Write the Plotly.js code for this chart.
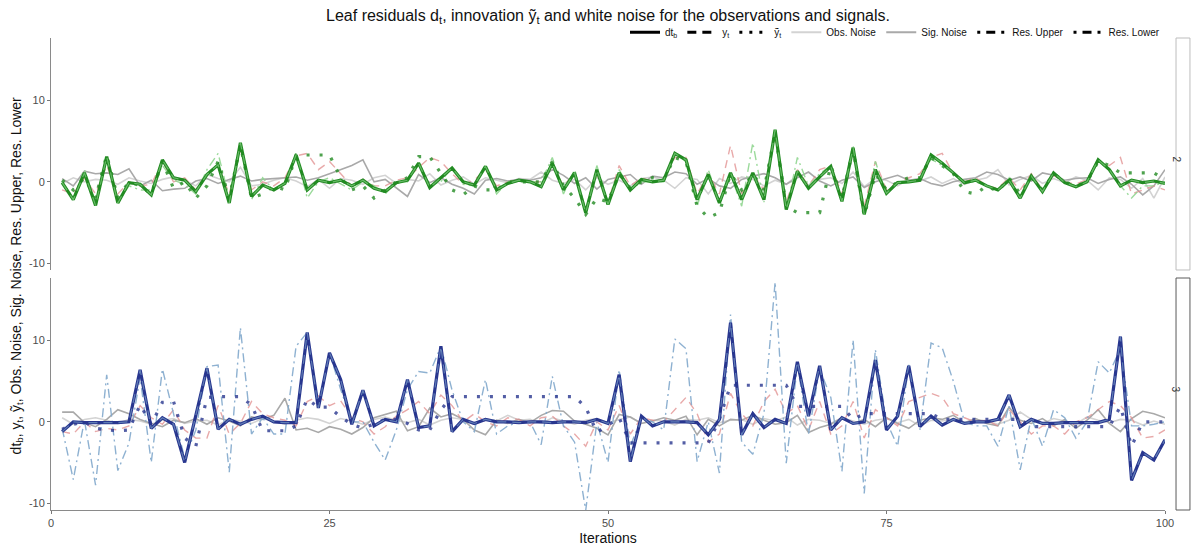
<!DOCTYPE html>
<html>
<head>
<meta charset="utf-8">
<script src="https://cdn.plot.ly/plotly-3.0.1.min.js"></script>
<style>
  html, body { margin: 0; padding: 0; background: #fff; }
  #chart { width: 1192px; height: 547px; }
</style>
</head>
<body>
<div id="chart"></div>
<script>
// Iterations 1..100
const iterations = Array.from({length: 100}, (_, i) => i + 1);

// ---- Leaf 2 ----
const dtb2 = [-0.1,-2.2,1.1,-2.9,3.1,-2.6,-0.1,-0.3,-1.6,2.7,0.5,0.2,-1.2,0.9,2.1,-2.6,4.8,-1.8,-0.4,-1.0,
  -0.2,3.3,-1.0,0.2,-0.1,0.2,-0.5,0.2,-0.8,-1.2,-0.1,0.2,2.3,-0.7,0.5,1.7,0.0,-0.4,1.9,-1.0,
  -0.2,0.2,0.0,-0.6,2.3,-1.0,1.1,-3.8,1.5,-2.8,1.1,-1.0,0.3,0.0,0.2,3.5,2.7,-2.2,0.9,-2.6,
  1.1,-2.2,1.1,-2.2,6.4,-3.4,1.3,-0.8,0.6,1.9,-2.4,4.2,-4.0,1.5,-1.4,-0.1,0.0,0.2,3.3,2.3,
  1.1,-0.1,0.2,-0.5,-1.0,0.2,-2.0,0.7,-1.2,1.1,-0.1,-0.6,0.0,2.7,1.5,-0.5,0.2,-0.1,0.1,-0.2];
const yt2 = [-0.1,-2.2,1.1,-2.9,3.1,-2.6,-0.1,-0.3,-1.6,2.7,0.5,0.2,-1.2,0.9,2.1,-2.6,4.8,-1.8,-0.4,-1.0,
  -0.2,3.3,-1.0,0.2,-0.1,0.2,-0.5,0.2,-0.8,-1.2,-0.1,0.2,2.3,-0.7,0.5,1.7,0.0,-0.4,1.9,-1.0,
  -0.2,0.2,0.0,-0.6,2.3,-1.0,1.1,-3.8,1.5,-2.8,1.1,-1.0,0.3,0.0,0.2,3.5,2.7,-2.2,0.9,-2.6,
  1.1,-2.2,1.1,-2.2,6.4,-3.4,1.3,-0.8,0.6,1.9,-2.4,4.2,-4.0,1.5,-1.4,-0.1,0.0,0.2,3.3,2.3,
  1.1,-0.1,0.2,-0.5,-1.0,0.2,-2.0,0.7,-1.2,1.1,-0.1,-0.6,0.0,2.7,1.5,-0.5,0.2,-0.1,0.1,-0.2];
const ytilde2 = [0.2,-1.0,0.5,-2.0,3.3,-2.0,0.0,-0.5,-1.5,2.5,-0.8,0.0,-2.0,-0.5,2.5,-2.0,4.5,-2.0,-1.5,-0.5,
  -1.0,3.3,3.3,3.3,3.3,0.5,-1.0,-0.5,-2.0,-1.0,0.0,0.5,3.1,3.1,1.0,-1.0,-1.6,-0.5,-1.0,-1.0,
  0.0,0.0,0.0,0.0,2.5,-0.5,-2.0,-4.0,-2.0,-2.5,1.0,-0.8,0.0,0.5,0.3,3.0,2.5,-3.0,-4.4,-3.8,
  1.0,-1.0,1.0,-1.0,6.0,-3.0,-3.8,-3.8,-3.8,2.0,-2.0,4.0,-4.2,1.0,-1.0,0.0,0.5,0.5,3.0,2.0,
  1.0,-1.2,-1.5,-0.5,-1.2,0.5,-1.5,0.5,-1.0,1.0,0.0,-0.5,0.0,2.5,2.0,1.1,1.1,1.1,1.1,0.3];
const obs2 = [-0.2,0.5,0.0,0.3,0.2,-0.3,0.5,0.1,-0.2,0.3,0.6,0.2,-0.5,0.9,0.4,0.0,1.8,-0.5,-0.3,0.2,
  0.5,0.1,-0.6,0.3,-0.8,0.4,0.2,-0.3,0.5,0.8,-0.2,0.3,0.1,1.0,-0.4,0.2,0.6,-0.3,0.5,0.2,
  -0.1,0.4,0.3,1.2,0.2,-0.2,0.3,-1.0,0.5,-0.3,0.2,-0.5,0.4,0.6,0.2,-0.8,0.5,0.3,-1.5,0.4,
  -0.2,0.6,0.3,-0.5,0.2,-0.3,0.8,-0.4,0.3,0.5,-0.2,1.2,-0.6,0.4,0.2,-0.5,0.3,0.1,0.6,-0.2,
  0.4,-0.3,0.2,0.5,1.5,-0.4,0.3,0.8,-0.2,0.4,-0.1,0.6,0.2,-1.0,0.5,0.3,-0.8,0.4,-2.0,0.6];
const sig2 = [0.4,-0.5,1.3,1.0,1.1,0.9,1.6,-0.5,0.2,-1.1,-0.9,-0.8,0.1,0.4,-0.2,0.3,0.7,0.1,0.3,0.4,
  0.5,0.6,0.2,0.5,1.0,1.5,2.0,2.7,0.0,0.3,-0.8,-1.8,0.9,-0.1,0.5,-0.3,-0.8,-1.5,0.2,0.4,
  0.1,0.3,0.2,0.5,1.5,0.8,-0.2,0.5,-0.9,0.3,0.6,0.9,-0.3,0.7,0.5,1.2,1.0,-0.3,0.4,-0.5,
  -0.8,0.3,0.7,1.0,0.5,-0.3,0.5,1.2,0.1,-0.5,0.2,0.6,-0.7,0.0,0.4,0.8,0.2,0.4,-0.2,-0.5,
  0.0,0.3,0.5,1.2,0.9,0.2,0.6,0.1,1.1,0.8,0.2,0.4,0.5,-0.2,0.3,0.6,-0.3,-1.6,-0.5,1.5];
const resUp2 = [-1.0,-1.5,0.5,-1.5,2.0,-1.5,0.0,-0.5,-0.3,2.5,0.0,0.5,-1.0,1.0,2.0,-1.5,4.0,-1.0,0.0,-0.5,
  0.5,3.2,3.5,1.5,2.5,1.0,-0.5,0.3,-0.5,-0.5,0.2,0.5,1.8,3.0,2.5,1.0,-0.3,0.2,1.5,-0.5,
  0.0,0.2,0.0,0.0,2.0,-0.5,1.0,-3.5,1.0,-2.5,2.0,-0.5,0.5,0.0,0.3,3.0,3.0,-1.5,1.0,-1.5,
  4.5,-1.5,1.0,-1.0,5.5,-2.5,1.5,-0.5,1.5,2.0,-1.5,3.5,-3.0,2.5,-1.0,0.0,0.5,1.0,3.0,3.5,
  1.0,0.0,0.5,-0.5,-0.8,0.5,-1.0,1.0,-1.0,0.8,0.0,-0.3,0.3,2.5,2.0,3.0,-1.5,-1.0,-0.5,-1.0];
const resLo2 = [0.0,-2.0,1.5,-2.5,3.0,-2.5,-0.5,-1.0,-1.0,2.0,0.2,-0.3,-1.5,1.5,3.5,-2.0,4.5,-2.2,0.5,-1.0,
  0.0,3.5,-2.0,0.0,0.5,-0.2,-1.0,0.0,-0.5,-1.5,0.0,0.0,2.5,-0.5,0.0,1.8,-0.3,-0.5,2.0,-1.5,
  0.0,0.0,0.0,0.0,3.0,-1.5,1.5,-3.5,2.0,-2.5,1.5,-1.0,0.0,0.0,0.0,3.5,2.5,-3.0,1.5,-2.5,
  1.0,-3.0,4.8,-2.5,6.0,-3.5,3.0,-0.5,1.0,2.0,-2.5,4.5,-4.0,2.5,-1.5,0.0,0.0,0.5,2.8,2.0,
  1.0,0.0,0.0,-0.5,-1.0,0.5,-1.8,0.5,-1.0,1.0,0.0,-0.5,0.0,2.5,1.5,-0.5,-2.0,-0.5,-0.5,0.0];

// ---- Leaf 3 ----
const dtb3 = [-1.2,0.0,-0.1,-0.1,-0.1,-0.1,0.0,6.4,-0.8,0.5,-0.3,-5.0,0.8,6.6,-0.9,0.3,-0.3,0.3,0.7,0.0,
  -0.1,-0.1,11.0,1.7,8.5,5.2,-0.3,3.9,-0.5,0.3,0.0,5.2,-0.7,-0.5,9.3,-1.2,0.3,-0.2,0.3,0.0,
  0.0,-0.1,0.0,0.0,-0.1,0.0,0.0,-0.1,0.3,-0.2,5.8,-4.9,0.7,-0.5,0.0,0.0,0.0,-0.1,-1.6,0.3,
  12.2,-1.6,1.0,-0.7,0.3,-0.2,7.4,0.7,6.9,-1.0,0.5,-0.2,0.0,7.6,-1.0,0.7,6.9,-0.6,0.7,-0.4,
  0.3,-0.2,0.0,0.0,0.3,3.3,-0.6,0.3,-0.2,-0.2,-0.1,-0.1,-0.1,-0.1,0.3,10.5,-7.2,-3.8,-4.7,-2.2];
const yt3 = [-1.2,0.0,-0.1,-0.1,-0.1,-0.1,0.0,6.4,-0.8,0.5,-0.3,-5.0,0.8,6.6,-0.9,0.3,-0.3,0.3,0.7,0.0,
  -0.1,-0.1,11.0,1.7,8.5,5.2,-0.3,3.9,-0.5,0.3,0.0,5.2,-0.7,-0.5,9.3,-1.2,0.3,-0.2,0.3,0.0,
  0.0,-0.1,0.0,0.0,-0.1,0.0,0.0,-0.1,0.3,-0.2,5.8,-4.9,0.7,-0.5,0.0,0.0,0.0,-0.1,-1.6,0.3,
  12.2,-1.6,1.0,-0.7,0.3,-0.2,7.4,0.7,6.9,-1.0,0.5,-0.2,0.0,7.6,-1.0,0.7,6.9,-0.6,0.7,-0.4,
  0.3,-0.2,0.0,0.0,0.3,3.3,-0.6,0.3,-0.2,-0.2,-0.1,-0.1,-0.1,-0.1,0.3,10.5,-7.2,-3.8,-4.7,-2.2];
const ytilde3 = [-0.9,-0.3,0.0,-0.8,-1.0,-1.1,-1.0,2.1,-0.3,2.4,2.5,-2.0,-3.0,3.0,3.1,3.1,3.1,2.1,-1.1,-1.1,
  -1.1,-0.5,2.8,1.8,1.8,0.6,-0.3,-0.8,-0.3,0.3,0.3,-0.2,-1.0,-1.0,1.5,3.1,3.1,3.1,3.1,3.1,
  3.1,3.1,3.1,3.1,3.1,3.1,3.1,1.8,-1.3,-0.4,0.5,-2.6,-2.6,-2.6,-2.6,-2.6,-2.6,-2.6,-2.6,0.3,
  4.5,4.5,4.5,4.5,4.5,4.5,1.9,1.9,1.9,1.9,1.9,0.3,1.0,1.0,1.0,1.0,1.0,1.0,1.0,0.3,
  0.3,0.3,0.3,0.3,0.3,0.3,0.3,-0.6,-0.6,-0.6,-0.6,-0.6,-0.6,-0.6,-0.6,1.9,-3.0,0.0,0.0,0.0];
const obs3 = [0.5,-0.3,0.3,0.5,0.2,-0.2,0.3,0.1,-0.3,0.2,0.4,-0.2,0.1,0.2,-0.4,0.3,0.1,-0.2,0.4,0.0,
  -0.3,0.2,0.5,0.3,-0.2,0.4,0.1,-0.3,0.3,0.6,0.2,-0.1,0.3,-0.4,0.2,0.5,0.3,-0.3,0.4,0.1,
  0.8,0.2,0.3,-0.2,0.5,0.1,-0.3,0.2,0.4,-0.1,0.3,0.6,-0.2,0.2,0.1,-0.4,0.3,0.2,0.5,-0.1,
  0.2,0.3,-0.3,0.4,0.1,0.6,-0.4,0.3,0.2,-0.2,0.5,0.1,-0.3,0.2,0.4,-0.1,0.3,-0.5,0.2,0.1,
  0.4,-0.2,0.3,0.1,-0.3,0.2,1.2,0.3,-0.2,0.4,0.1,-0.3,0.6,0.2,-0.1,0.3,0.2,-0.4,0.1,-0.3];
const sig3 = [1.2,1.2,-0.1,-0.6,0.3,1.5,1.0,0.3,-0.2,-0.6,0.2,-0.1,0.4,-0.3,0.5,0.1,-0.5,0.6,0.3,0.8,
  2.9,-1.0,-0.8,-1.3,-0.6,-0.9,-1.5,-0.7,0.5,0.9,1.3,-1.1,-0.6,1.7,0.6,1.0,0.3,-1.0,-1.6,0.2,
  -0.2,0.3,-0.1,0.8,1.4,1.3,0.1,-0.3,-0.8,-1.6,0.9,0.6,-0.2,0.1,0.5,0.2,0.7,-1.6,0.3,-0.5,
  0.3,0.2,0.8,0.2,-0.3,-0.1,0.8,-1.3,-0.7,-0.3,0.5,-0.2,0.3,-0.6,0.5,-0.2,-0.8,0.2,0.5,0.3,
  0.8,-0.1,0.4,-0.2,-0.5,1.8,0.2,-0.2,0.4,-0.5,0.3,-0.8,0.2,1.5,-0.2,-1.2,0.4,1.3,1.0,0.5];
const resUp3 = [-1.2,-1.5,0.0,-1.2,-0.8,-1.0,-0.5,2.0,0.5,-0.3,1.5,-1.0,-2.0,-2.0,2.0,-1.5,-0.2,2.5,1.0,0.5,
  0.2,-0.5,2.5,3.2,2.0,2.6,0.5,0.0,-1.5,-0.6,0.7,1.5,2.5,1.0,3.3,2.0,0.0,1.0,0.0,-0.5,
  0.5,0.3,-0.5,0.5,0.7,-0.5,-1.5,-3.0,0.0,-1.0,2.0,-1.5,0.5,0.2,0.0,1.5,3.0,1.0,-2.5,-1.5,
  3.5,1.0,-0.5,2.5,4.0,1.0,2.0,-1.0,2.5,-1.5,-0.5,2.5,-2.0,1.5,0.5,-0.5,2.5,3.0,3.5,3.0,
  1.0,0.5,0.0,0.2,-0.5,1.5,0.0,-1.5,-0.5,-0.5,-1.5,0.0,0.5,1.5,2.5,2.0,0.5,-2.0,-1.8,-1.0];
const resLo3 = [-0.8,-7.1,0.2,-7.8,5.8,-6.0,-2.6,5.5,-5.0,6.5,1.0,-4.5,-1.0,6.8,7.0,-6.2,11.6,-1.5,0.5,-1.5,
  -1.5,9.3,11.0,2.0,8.5,4.0,0.0,0.0,-2.5,-4.7,-1.0,4.0,6.2,6.0,9.3,3.9,0.0,-1.2,5.2,-1.5,
  -0.5,0.0,0.0,-2.8,5.6,-0.5,-2.5,-10.9,0.0,-5.0,6.4,-3.0,0.5,0.0,-1.0,10.2,9.0,-4.9,0.0,-6.3,
  13.2,-2.5,-4.0,1.0,17.2,-5.1,7.0,-1.5,6.5,3.0,-6.1,10.1,-8.8,8.9,0.0,-3.0,7.0,-1.0,9.7,9.1,
  5.0,0.0,-0.5,-0.5,-3.0,2.0,-5.9,0.5,-3.0,1.5,0.5,-2.0,0.0,7.4,6.0,9.0,-0.5,-0.5,-0.3,0.0];

// Legend keys (black, as line-type guide)
const legendNames = ['dt<sub>b</sub>', 'y<sub>t</sub>', 'ỹ<sub>t</sub>', 'Obs. Noise', 'Sig. Noise', 'Res. Upper', 'Res. Lower'];
const legendColors = ['#000000', '#000000', '#000000', '#d3d3d3', '#a9a9a9', '#000000', '#000000'];
const legendDash = ['solid', '9px,6px', '3px,7px', 'solid', 'solid', '3px,6px,9px,6px', '3px,6px,9px,6px'];
const legendWidth = [3, 3, 3, 2, 2, 3, 3];

const yRange = [-10.85, 17.7];
const dotDash = '3px,10px';

function panelTraces(xa, ya, main, light, d) {
  return [
    {x: iterations, y: d.obs, xaxis: xa, yaxis: ya, mode: 'lines', showlegend: false, hoverinfo: 'skip',
     line: {color: '#d3d3d3', width: 1.6}},
    {x: iterations, y: d.sig, xaxis: xa, yaxis: ya, mode: 'lines', showlegend: false, hoverinfo: 'skip',
     line: {color: '#a9a9a9', width: 1.6}},
    {x: iterations, y: d.resUp, xaxis: xa, yaxis: ya, mode: 'lines', showlegend: false, hoverinfo: 'skip',
     line: {color: 'rgba(224,140,140,0.75)', width: 1.4, dash: '8px,6px'}},
    {x: iterations, y: d.resLo, xaxis: xa, yaxis: ya, mode: 'lines', showlegend: false, hoverinfo: 'skip',
     line: {color: light, width: 1.4, dash: '9px,4px,2px,4px'}},
    {x: iterations, y: d.ytilde, xaxis: xa, yaxis: ya, mode: 'lines', showlegend: false, hoverinfo: 'skip',
     line: {color: main, width: 3.2, dash: dotDash}, opacity: 0.8},
    {x: iterations, y: d.dtb, xaxis: xa, yaxis: ya, mode: 'lines', showlegend: false, hoverinfo: 'skip',
     line: {color: main, width: 3.2}},
    {x: iterations, y: d.yt, xaxis: xa, yaxis: ya, mode: 'lines', showlegend: false, hoverinfo: 'skip',
     line: {color: light, width: 1.2, dash: '9px,6px'}, opacity: 0.7}
  ];
}

const traces = []
  .concat(panelTraces('x', 'y', '#228b22', 'rgba(144,214,144,0.9)',
    {dtb: dtb2, yt: yt2, ytilde: ytilde2, obs: obs2, sig: sig2, resUp: resUp2, resLo: resLo2}))
  .concat(panelTraces('x2', 'y2', '#28368f', 'rgba(130,168,204,0.9)',
    {dtb: dtb3, yt: yt3, ytilde: ytilde3, obs: obs3, sig: sig3, resUp: resUp3, resLo: resLo3}));

legendNames.forEach((n, i) => {
  traces.push({x: [null], y: [null], xaxis: 'x2', yaxis: 'y2', mode: 'lines', name: n,
    line: {color: legendColors[i], width: legendWidth[i], dash: legendDash[i]}, showlegend: true});
});

const tickFont = {family: 'Liberation Sans, Arial, sans-serif', size: 11, color: '#4d4d4d'};
const topDom = [0.5085, 1];
const botDom = [0, 0.4915];

const layout = {
  width: 1192, height: 547,
  margin: {l: 51, r: 27, t: 38, b: 37},
  paper_bgcolor: '#ffffff', plot_bgcolor: '#ffffff',
  font: {family: 'Liberation Sans, Arial, sans-serif', color: '#000'},
  title: {text: 'Leaf residuals d<sub>t</sub>, innovation ỹ<sub>t</sub> and white noise for the observations and signals.',
          x: 0.5, xref: 'paper', y: 0.972, yanchor: 'middle',
          font: {size: 16, color: '#111'}},
  showlegend: true,
  legend: {orientation: 'h', x: 1, xanchor: 'right', y: 1.012, yanchor: 'middle',
           font: {size: 10, color: '#111'}, bgcolor: 'rgba(0,0,0,0)', itemwidth: 30, traceorder: 'normal'},
  xaxis: {domain: [0, 1], anchor: 'y', range: [0, 100], showticklabels: false, ticks: '',
          showgrid: false, zeroline: false, showline: false},
  yaxis: {domain: topDom, anchor: 'x', range: yRange, tickvals: [-10, 0, 10], ticktext: ['-10', '0', '10'],
          ticks: 'outside', ticklen: 3, tickcolor: '#777', tickfont: tickFont,
          showgrid: false, zeroline: false, showline: true, linecolor: '#8a8a8a', linewidth: 1},
  xaxis2: {domain: [0, 1], anchor: 'y2', range: [0, 100], tickvals: [0, 25, 50, 75, 100],
           ticks: 'outside', ticklen: 3, tickcolor: '#777', tickfont: tickFont,
           showgrid: false, zeroline: false, showline: true, linecolor: '#8a8a8a', linewidth: 1,
           title: {text: 'Iterations', font: {size: 14, color: '#111'}, standoff: 4}},
  yaxis2: {domain: botDom, anchor: 'x2', range: yRange, tickvals: [-10, 0, 10], ticktext: ['-10', '0', '10'],
           ticks: 'outside', ticklen: 3, tickcolor: '#777', tickfont: tickFont,
           showgrid: false, zeroline: false, showline: true, linecolor: '#8a8a8a', linewidth: 1},
  shapes: [
    {type: 'rect', xref: 'paper', yref: 'paper', x0: 1.0099, x1: 1.0224, y0: topDom[0], y1: topDom[1],
     line: {color: '#bdbdbd', width: 1}, fillcolor: '#ffffff'},
    {type: 'rect', xref: 'paper', yref: 'paper', x0: 1.0099, x1: 1.0224, y0: botDom[0], y1: botDom[1],
     line: {color: '#5a5a5a', width: 1}, fillcolor: '#ffffff'}
  ],
  annotations: [
    {text: '2', xref: 'paper', yref: 'paper', x: 1.0162, y: (topDom[0] + topDom[1]) / 2, showarrow: false,
     textangle: 90, font: {size: 10, color: '#333'}},
    {text: '3', xref: 'paper', yref: 'paper', x: 1.0162, y: (botDom[0] + botDom[1]) / 2, showarrow: false,
     textangle: 90, font: {size: 10, color: '#333'}},
    {text: 'dt<sub>b</sub>, y<sub>t</sub>, ỹ<sub>t</sub>, Obs. Noise, Sig. Noise, Res. Upper, Res. Lower',
     xref: 'paper', yref: 'paper', x: -0.031, y: 0.498, xanchor: 'center', yanchor: 'middle',
     showarrow: false, textangle: -90, font: {size: 14, color: '#111'}}
  ]
};

Plotly.newPlot('chart', traces, layout, {staticPlot: true, displayModeBar: false});
</script>
</body>
</html>
